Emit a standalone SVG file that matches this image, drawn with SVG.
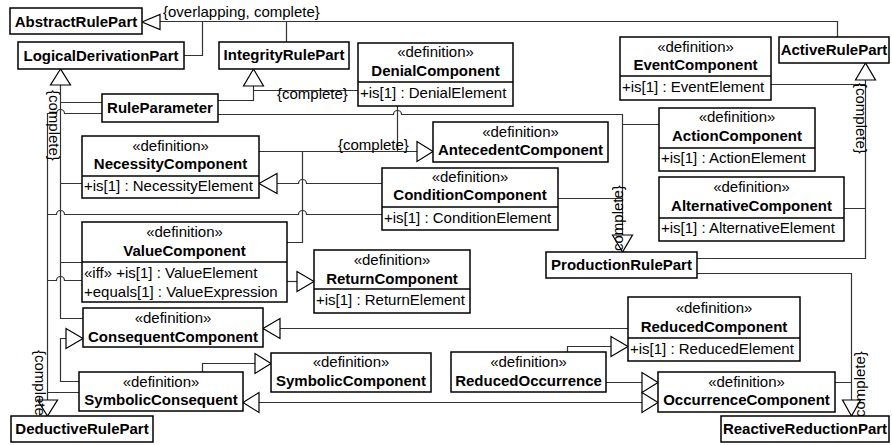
<svg xmlns="http://www.w3.org/2000/svg" width="892" height="445" viewBox="0 0 892 445">
  <style>
    text { font-family: "Liberation Sans", Arial, sans-serif; font-size: 15px; fill: #000; }
    .box { fill: #fff; stroke: #000; stroke-width: 1.5; }
    .sep { stroke: #000; stroke-width: 1.5; }
    .ln { fill: none; stroke: #333; stroke-width: 1.2; }
    .gen { fill: #fff; stroke: #000; stroke-width: 1.2; stroke-linejoin: miter; }
    .st { text-anchor: middle; }
    .nm { text-anchor: middle; font-weight: bold; }
    .at { text-anchor: start; }
  </style>
  <rect width="892" height="445" fill="#fff"/>

  <g id="connectors">
    <!-- generalization set {overlapping, complete} under AbstractRulePart -->
    <path class="ln" d="M160 21.5 H837.5 V37 M202.5 21.5 V55.5 H184 M286.5 21.5 V42"/>
    <!-- LogicalDerivationPart tree -->
    <path class="ln" d="M60.5 85 V318.5 H83 M60.5 102.5 H102 M60.5 183.5 H82 M60.5 262.5 H82"/>
    <!-- DeductiveRulePart tree (hops over x=60) -->
    <path class="ln" d="M47.5 113 V400 M47.5 113.5 H56.5 A4 4 0 0 1 64.5 113.5 H102 M47.5 214.5 H56.5 A4 4 0 0 1 64.5 214.5 H298.5 A4 4 0 0 1 306.5 214.5 H382 M47.5 280.5 H56.5 A4 4 0 0 1 64.5 280.5 H82 M47.5 392.5 H79"/>
    <!-- IntegrityRulePart tree -->
    <path class="ln" d="M253.5 86 V100.5 H218 M253.5 90.5 H358"/>
    <!-- ProductionRulePart tree -->
    <path class="ln" d="M218 114.5 H393.5 A4 4 0 0 1 401.5 114.5 H622.5 V235 M622.5 124.5 H659 M558 198.5 H622.5"/>
    <!-- AntecedentComponent tree -->
    <path class="ln" d="M259 151.5 H417 M397.5 106 V151.5 M287 242.5 H302.5 V151.5"/>
    <!-- ConditionComponent to NecessityComponent -->
    <path class="ln" d="M277 183.5 H298.5 A4 4 0 0 1 306.5 183.5 H382"/>
    <!-- ValueComponent to ReturnComponent -->
    <path class="ln" d="M287 281.5 H297"/>
    <!-- ReducedComponent to ConsequentComponent -->
    <path class="ln" d="M280 328.5 H628"/>
    <!-- SymbolicConsequent to ConsequentComponent -->
    <path class="ln" d="M79 381.5 H60.5 V338.5 H66"/>
    <!-- SymbolicConsequent to SymbolicComponent -->
    <path class="ln" d="M202.5 372 V363.5 H255"/>
    <!-- ReducedOccurrence to ReducedComponent / OccurrenceComponent -->
    <path class="ln" d="M567.5 352 V346.5 H611 M606 382.5 H642"/>
    <!-- SymbolicConsequent / OccurrenceComponent -->
    <path class="ln" d="M259 402.5 H642"/>
    <!-- ReactiveReductionPart tree -->
    <path class="ln" d="M697 273.5 H851.5 V400 M835 382.5 H851.5"/>
    <!-- ActiveRulePart tree -->
    <path class="ln" d="M865.5 80 V258.5 H697 M771 84.5 H865.5 M844 208.5 H865.5"/>

    <!-- hollow generalization heads -->
    <polygon class="gen" points="142,22 160,14.5 160,29.5"/>
    <polygon class="gen" points="60.5,69 50.5,85 70.5,85"/>
    <polygon class="gen" points="47.5,416 37.5,400 57.5,400"/>
    <polygon class="gen" points="253.5,69 243.5,86 263.5,86"/>
    <polygon class="gen" points="622.5,252 612.5,235 632.5,235"/>
    <polygon class="gen" points="433,151.5 417,141.5 417,161.5"/>
    <polygon class="gen" points="259,183.5 277,173.5 277,193.5"/>
    <polygon class="gen" points="314,281.5 297,271.5 297,291.5"/>
    <polygon class="gen" points="263,328.5 280,318.5 280,338.5"/>
    <polygon class="gen" points="83,338.5 66,328.5 66,348.5"/>
    <polygon class="gen" points="271,363.5 255,353.5 255,373.5"/>
    <polygon class="gen" points="628,346.5 611,336.5 611,356.5"/>
    <polygon class="gen" points="658,382.5 642,372.5 642,392.5"/>
    <polygon class="gen" points="658,402.5 642,392.5 642,412.5"/>
    <polygon class="gen" points="243,402.5 259,392.5 259,412.5"/>
    <polygon class="gen" points="851.5,416 842.5,400 860.5,400"/>
    <polygon class="gen" points="865.5,63 855.5,80 875.5,80"/>

    <!-- constraint labels -->
    <text x="163" y="17">{overlapping, complete}</text>
    <text x="277" y="99">{complete}</text>
    <text x="338" y="150">{complete}</text>
    <text transform="translate(49 90) rotate(90)">{complete}</text>
    <text transform="translate(35 350) rotate(90)">{complete}</text>
    <text transform="translate(623 256) rotate(-90)">{complete}</text>
    <text transform="translate(856 83) rotate(90)">{complete}</text>
    <text transform="translate(865 422) rotate(-90)">{complete}</text>
  </g>

  <g id="AbstractRulePart">
    <rect class="box" x="10" y="8" width="132" height="26"/>
    <text class="nm" x="76" y="27">AbstractRulePart</text>
  </g>
  <g id="LogicalDerivationPart">
    <rect class="box" x="18" y="42" width="166" height="27"/>
    <text class="nm" x="101" y="61">LogicalDerivationPart</text>
  </g>
  <g id="IntegrityRulePart">
    <rect class="box" x="219" y="42" width="130" height="27"/>
    <text class="nm" x="284" y="60">IntegrityRulePart</text>
  </g>
  <g id="ActiveRulePart">
    <rect class="box" x="779" y="37" width="110" height="26"/>
    <text class="nm" x="834" y="55">ActiveRulePart</text>
  </g>
  <g id="RuleParameter">
    <rect class="box" x="102" y="94" width="116" height="28"/>
    <text class="nm" x="160" y="113">RuleParameter</text>
  </g>
  <g id="DenialComponent">
    <rect class="box" x="358" y="43" width="155" height="63"/>
    <line class="sep" x1="358" y1="82" x2="513" y2="82"/>
    <text class="st" x="435.5" y="57">«definition»</text>
    <text class="nm" x="435.5" y="76">DenialComponent</text>
    <text class="at" x="360" y="98">+is[1] : DenialElement</text>
  </g>
  <g id="EventComponent">
    <rect class="box" x="620" y="37" width="151" height="63"/>
    <line class="sep" x1="620" y1="76" x2="771" y2="76"/>
    <text class="st" x="695.5" y="52">«definition»</text>
    <text class="nm" x="695.5" y="70">EventComponent</text>
    <text class="at" x="622" y="92">+is[1] : EventElement</text>
  </g>
  <g id="ActionComponent">
    <rect class="box" x="659" y="108" width="156" height="63"/>
    <line class="sep" x1="659" y1="148" x2="815" y2="148"/>
    <text class="st" x="737" y="122">«definition»</text>
    <text class="nm" x="737" y="141">ActionComponent</text>
    <text class="at" x="661" y="163">+is[1] : ActionElement</text>
  </g>
  <g id="AlternativeComponent">
    <rect class="box" x="659" y="177" width="185" height="64"/>
    <line class="sep" x1="659" y1="218" x2="844" y2="218"/>
    <text class="st" x="751.5" y="192">«definition»</text>
    <text class="nm" x="751.5" y="211">AlternativeComponent</text>
    <text class="at" x="661" y="233">+is[1] : AlternativeElement</text>
  </g>
  <g id="AntecedentComponent">
    <rect class="box" x="433" y="122" width="175" height="40"/>
    <text class="st" x="520.5" y="137">«definition»</text>
    <text class="nm" x="520.5" y="155">AntecedentComponent</text>
  </g>
  <g id="NecessityComponent">
    <rect class="box" x="82" y="136" width="177" height="62"/>
    <line class="sep" x1="82" y1="176" x2="259" y2="176"/>
    <text class="st" x="170.5" y="151">«definition»</text>
    <text class="nm" x="170.5" y="169">NecessityComponent</text>
    <text class="at" x="84" y="191">+is[1] : NecessityElement</text>
  </g>
  <g id="ConditionComponent">
    <rect class="box" x="382" y="168" width="176" height="62"/>
    <line class="sep" x1="382" y1="207" x2="558" y2="207"/>
    <text class="st" x="470" y="182">«definition»</text>
    <text class="nm" x="470" y="200">ConditionComponent</text>
    <text class="at" x="384" y="223">+is[1] : ConditionElement</text>
  </g>
  <g id="ValueComponent">
    <rect class="box" x="82" y="222" width="205" height="80"/>
    <line class="sep" x1="82" y1="262" x2="287" y2="262"/>
    <text class="st" x="184.5" y="237">«definition»</text>
    <text class="nm" x="184.5" y="256">ValueComponent</text>
    <text class="at" x="84" y="278">«iff» +is[1] : ValueElement</text>
    <text class="at" x="84" y="297">+equals[1] : ValueExpression</text>
  </g>
  <g id="ReturnComponent">
    <rect class="box" x="314" y="250" width="156" height="63"/>
    <line class="sep" x1="314" y1="289" x2="470" y2="289"/>
    <text class="st" x="392" y="265">«definition»</text>
    <text class="nm" x="392" y="284">ReturnComponent</text>
    <text class="at" x="316" y="305">+is[1] : ReturnElement</text>
  </g>
  <g id="ProductionRulePart">
    <rect class="box" x="546" y="252" width="151" height="26"/>
    <text class="nm" x="621.5" y="270">ProductionRulePart</text>
  </g>
  <g id="ConsequentComponent">
    <rect class="box" x="83" y="308" width="180" height="39"/>
    <text class="st" x="173" y="323">«definition»</text>
    <text class="nm" x="173" y="342">ConsequentComponent</text>
  </g>
  <g id="ReducedComponent">
    <rect class="box" x="628" y="297" width="172" height="64"/>
    <line class="sep" x1="628" y1="338" x2="800" y2="338"/>
    <text class="st" x="714" y="313">«definition»</text>
    <text class="nm" x="714" y="332">ReducedComponent</text>
    <text class="at" x="630" y="354">+is[1] : ReducedElement</text>
  </g>
  <g id="SymbolicComponent">
    <rect class="box" x="271" y="353" width="160" height="39"/>
    <text class="st" x="351" y="367">«definition»</text>
    <text class="nm" x="351" y="386">SymbolicComponent</text>
  </g>
  <g id="ReducedOccurrence">
    <rect class="box" x="451" y="352" width="155" height="40"/>
    <text class="st" x="528.5" y="367">«definition»</text>
    <text class="nm" x="528.5" y="386">ReducedOccurrence</text>
  </g>
  <g id="SymbolicConsequent">
    <rect class="box" x="79" y="372" width="164" height="39"/>
    <text class="st" x="161" y="387">«definition»</text>
    <text class="nm" x="161" y="405">SymbolicConsequent</text>
  </g>
  <g id="OccurrenceComponent">
    <rect class="box" x="658" y="372" width="177" height="40"/>
    <text class="st" x="746.5" y="387">«definition»</text>
    <text class="nm" x="746.5" y="405">OccurrenceComponent</text>
  </g>
  <g id="DeductiveRulePart">
    <rect class="box" x="11" y="416" width="142" height="26"/>
    <text class="nm" x="82" y="434">DeductiveRulePart</text>
  </g>
  <g id="ReactiveReductionPart">
    <rect class="box" x="721" y="416" width="168" height="26"/>
    <text class="nm" x="805" y="434">ReactiveReductionPart</text>
  </g>
</svg>
